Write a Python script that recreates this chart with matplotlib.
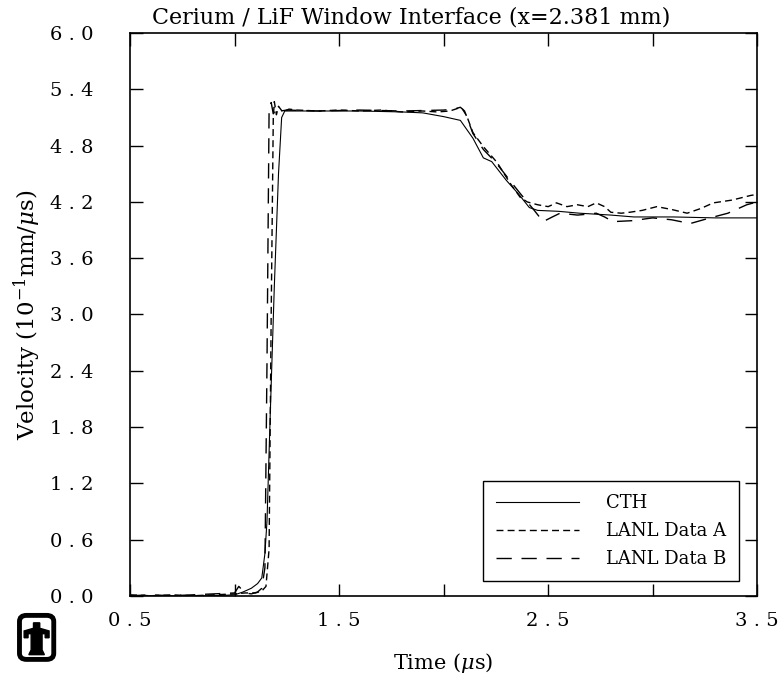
import numpy as np
import matplotlib.pyplot as plt
from matplotlib.patches import FancyBboxPatch, Polygon

# CTH simulation
cth_t = [0.5, 0.9, 1.0, 1.04, 1.08, 1.11, 1.13, 1.145, 1.155, 1.17, 1.19, 1.21,
         1.225, 1.24, 1.4, 1.6, 1.8, 1.9, 2.0, 2.08, 2.14, 2.19, 2.23, 2.30, 2.36,
         2.41, 2.45, 2.55, 2.65, 2.8, 2.91, 3.1, 3.3, 3.5]
cth_v = [0.0, 0.0, 0.01, 0.04, 0.08, 0.13, 0.19, 0.45, 0.8, 1.9, 3.3, 4.5,
         5.1, 5.17, 5.17, 5.17, 5.16, 5.15, 5.11, 5.07, 4.88, 4.67, 4.63, 4.43, 4.28,
         4.14, 4.11, 4.10, 4.08, 4.06, 4.04, 4.04, 4.03, 4.03]

# LANL data A
a_t = [0.5, 0.6, 0.7, 0.8, 0.9, 1.0, 1.05, 1.1, 1.13, 1.15, 1.165, 1.175, 1.185,
       1.19, 1.2, 1.21, 1.23, 1.26, 1.3, 1.4, 1.5, 1.6, 1.7, 1.8, 1.9, 1.97, 2.03,
       2.07, 2.09, 2.11, 2.14, 2.19, 2.256, 2.318, 2.366, 2.40, 2.45, 2.50, 2.54,
       2.59, 2.64, 2.69, 2.73, 2.77, 2.80, 2.85, 2.89, 2.95, 3.02, 3.09, 3.165,
       3.23, 3.29, 3.38, 3.47, 3.5]
a_v = [0.01, 0.0, 0.01, 0.0, 0.01, 0.02, 0.03, 0.03, 0.05, 0.1, 0.5, 3.0, 5.1,
       5.27, 5.13, 5.22, 5.16, 5.19, 5.18, 5.17, 5.18, 5.17, 5.18, 5.16, 5.17, 5.16, 5.17,
       5.20, 5.19, 5.12, 4.94, 4.79, 4.62, 4.40, 4.25, 4.20, 4.17, 4.15, 4.19,
       4.15, 4.17, 4.15, 4.19, 4.15, 4.09, 4.08, 4.09, 4.11, 4.15, 4.12, 4.08,
       4.13, 4.19, 4.22, 4.27, 4.28]

# LANL data B
b_t = [0.5, 0.6, 0.7, 0.8, 0.9, 1.0, 1.02, 1.05, 1.08, 1.11, 1.13, 1.145, 1.155,
       1.165, 1.175, 1.185, 1.2, 1.22, 1.25, 1.4, 1.6, 1.8, 2.0, 2.05, 2.08, 2.1,
       2.14, 2.19, 2.25, 2.32, 2.37, 2.43, 2.476, 2.52, 2.557, 2.6, 2.64, 2.69,
       2.73, 2.77, 2.81, 2.9, 3.0, 3.09, 3.18, 3.275, 3.36, 3.45, 3.5]
b_v = [0.0, 0.01, 0.0, 0.01, 0.02, 0.03, 0.1, 0.03, 0.02, 0.04, 0.08, 0.3, 2.5,
       5.2, 5.26, 5.14, 5.2, 5.17, 5.18, 5.17, 5.18, 5.17, 5.18, 5.19, 5.21, 5.17,
       4.93, 4.76, 4.62, 4.42, 4.28, 4.12, 3.99, 4.04, 4.08, 4.07, 4.06, 4.07,
       4.08, 4.04, 3.99, 4.00, 4.03, 4.01, 3.97, 4.03, 4.08, 4.17, 4.20]

x_ticks = [0.5, 1.0, 1.5, 2.0, 2.5, 3.0, 3.5]
x_labels = ['0 . 5', '', '1 . 5', '', '2 . 5', '', '3 . 5']
y_ticks = [0.0, 0.6, 1.2, 1.8, 2.4, 3.0, 3.6, 4.2, 4.8, 5.4, 6.0]

plt.rcParams['font.family'] = ['DejaVu Serif']
plt.rcParams['mathtext.fontset'] = 'dejavuserif'

fig = plt.figure(figsize=(7.79, 6.77), dpi=100)
ax = fig.add_axes([0.167, 0.120, 0.805, 0.831])

ax.plot(cth_t, cth_v, color='black', lw=0.8, label='CTH')
ax.plot(a_t, a_v, color='black', lw=1.0, dashes=(5, 3), label='LANL Data A')
ax.plot(b_t, b_v, color='black', lw=1.0, dashes=(11, 7), label='LANL Data B')

ax.set_xlim(0.5, 3.5)
ax.set_ylim(0.0, 6.0)
ax.set_xticks(x_ticks)
ax.set_xticklabels(x_labels)
ax.set_yticks(y_ticks)
ax.set_yticklabels([f'{v:.1f}'.replace('.', ' . ') for v in y_ticks])
ax.tick_params(direction='in', length=9, width=1, top=True, right=True,
               labelsize=14)
ax.tick_params(axis='y', pad=26)
ax.tick_params(axis='x', pad=12)
for s in ax.spines.values():
    s.set_linewidth(1.2)

ax.set_title('Cerium / LiF Window Interface (x=2.381 mm)', fontsize=16, pad=7, x=0.448)
ax.set_xlabel(r'Time ($\mu$s)', fontsize=15, labelpad=15)
ax.set_ylabel(r'Velocity (10$^{-1}$mm/$\mu$s)', fontsize=16.5, labelpad=5)

leg = ax.legend(loc='lower right', bbox_to_anchor=(0.971, 0.027), borderaxespad=0,
                fontsize=13, handlelength=4.6, handletextpad=1.5, borderpad=0.7,
                labelspacing=0.55, fancybox=False, framealpha=1, edgecolor='black')
leg.get_frame().set_linewidth(1.0)

# Sandia thunderbird logo
fig.patches.append(FancyBboxPatch((0.025, 0.026), 0.044, 0.065,
                                  boxstyle='round,pad=0,rounding_size=0.009',
                                  transform=fig.transFigure, fc='white', ec='black', lw=3.5))
bird = [(0.031, 0.068), (0.043, 0.072), (0.043, 0.080), (0.051, 0.080), (0.051, 0.072),
        (0.063, 0.068), (0.063, 0.058), (0.058, 0.058), (0.058, 0.064), (0.054, 0.064),
        (0.054, 0.040), (0.057, 0.033), (0.037, 0.033), (0.040, 0.040), (0.040, 0.064),
        (0.036, 0.064), (0.036, 0.058), (0.031, 0.058)]
fig.patches.append(Polygon(bird, closed=True, transform=fig.transFigure, fc='black', ec='black'))

fig.savefig('out.png', dpi=100)
